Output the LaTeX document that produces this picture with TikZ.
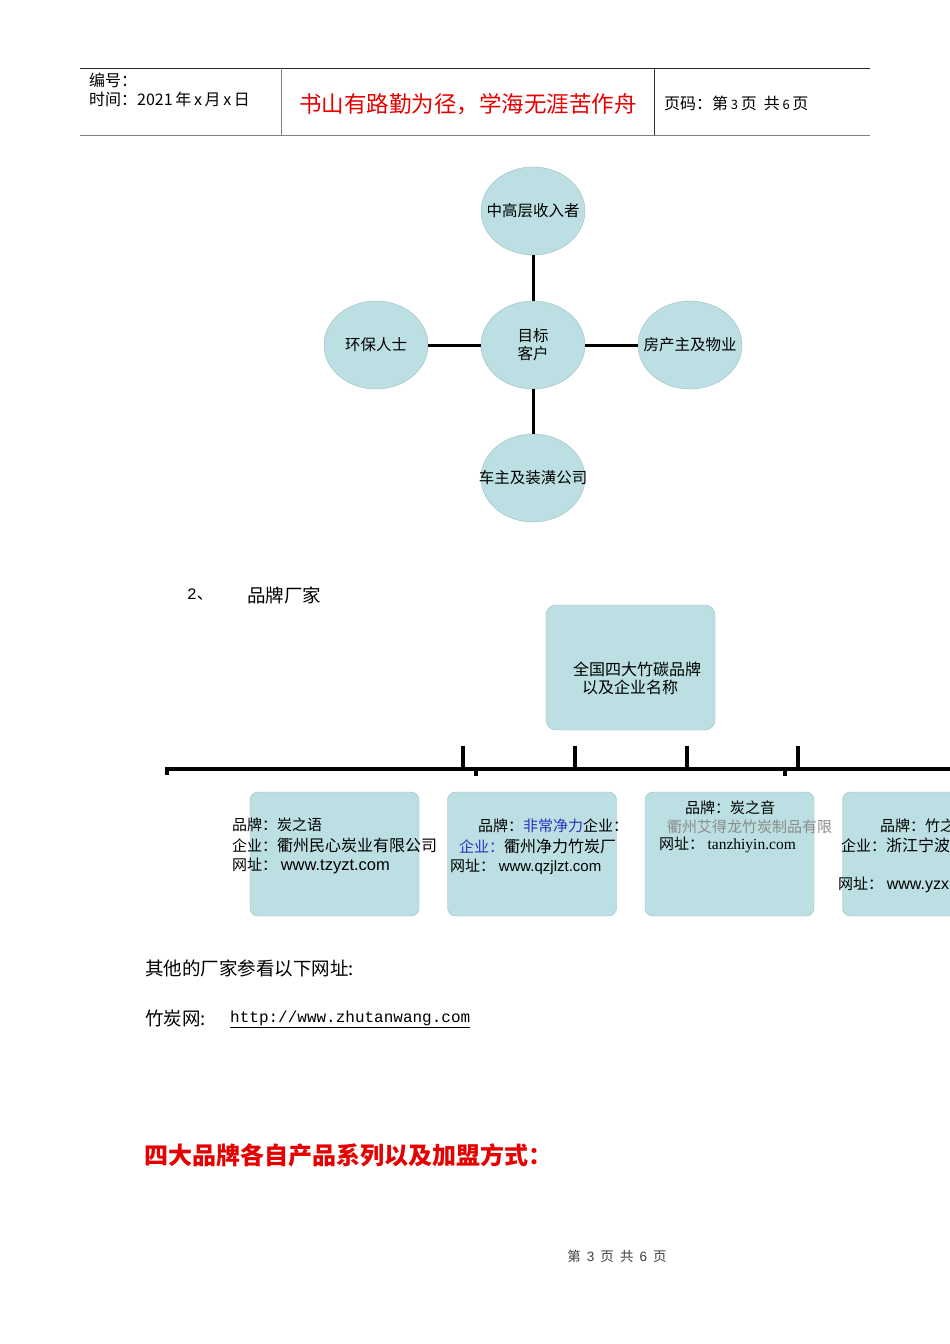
\documentclass[tikz,border=0pt]{standalone}
\usepackage{fontspec}
\setmainfont{Noto Sans CJK SC}
\newfontfamily\serifl{Liberation Serif}
\newfontfamily\monol{Liberation Mono}
\newfontfamily\sansl{Liberation Sans}
\usetikzlibrary{shapes.geometric}
\definecolor{bubble}{HTML}{BBDFE2}
\definecolor{bubbleline}{HTML}{9BBFC3}
\definecolor{hdrline}{HTML}{7F7F7F}
\definecolor{bluetxt}{HTML}{3030C0}
\definecolor{greytxt}{HTML}{8C8C8C}
\definecolor{redtxt}{HTML}{E60000}
\begin{document}
\begin{tikzpicture}[x=1pt,y=-1pt,
  bub/.style={ellipse,draw=bubbleline,fill=bubble,minimum width=104pt,minimum height=88pt,inner sep=0pt},
  bubtxt/.style={inner sep=0pt,font=\fontsize{15.5}{18}\selectfont,align=center},
  box/.style={rectangle,rounded corners=8pt,draw=bubbleline,fill=bubble,minimum width=169pt,minimum height=124pt,inner sep=0pt},
  txt/.style={anchor=west,inner sep=0pt},
  link/.style={line width=3pt,black},
  bar/.style={line width=3.5pt,black},
  fa/.style={font=\fontsize{15}{18}\selectfont},
  fb/.style={font=\fontsize{16}{19}\selectfont},
]
\useasboundingbox (0,0) rectangle (950,1344);
\clip (0,0) rectangle (950,1344);
\fill[white] (0,0) rectangle (950,1344);

% header
\draw[line width=0.8pt,black!85] (80,68) -- (870,68);
\draw[line width=1.6pt,hdrline] (80,135.5) -- (870,135.5);
\draw[line width=1pt,hdrline] (281,68) -- (281,135);
\draw[line width=1pt,black!80] (654,68) -- (654,135);
\node[txt,font=\fontsize{16}{19}\selectfont] (hno) at (89,80) {编号：};
\node[txt,font=\fontsize{16}{19}\selectfont] (htime) at (89,99) {时间：2021\,年\,x\,月\,x\,日};
\node[font=\fontsize{22.5}{25}\selectfont,text=redtxt,inner sep=0pt] (htitle) at (468,104) {书山有路勤为径，学海无涯苦作舟};
\node[txt,font=\fontsize{16}{19}\selectfont] (hpage) at (664,103) {页码：第\,{\fontsize{13}{15}\selectfont 3}\,页\ \ 共\,{\fontsize{13}{15}\selectfont 6}\,页};

% target customer diagram
\node[bub] (top) at (533,211) {};
\node[bub] (ctr) at (533,345) {};
\node[bub] (lft) at (376,345) {};
\node[bub] (rgt) at (690,345) {};
\node[bub] (bot) at (533,478) {};
\node[bubtxt] (topt) at (top.center) {中高层收入者};
\node[bubtxt] (ctrt) at (ctr.center) {目标\\客户};
\node[bubtxt] (lftt) at (lft.center) {环保人士};
\node[bubtxt] (rgtt) at (rgt.center) {房产主及物业};
\node[bubtxt] (bott) at (bot.center) {车主及装潢公司};
\draw[link] (ctr) -- (top);
\draw[link] (ctr) -- (lft);
\draw[link] (ctr) -- (rgt);
\draw[link] (ctr) -- (bot);

% section 2
\node[txt,font=\fontsize{16}{18}\selectfont] (s2num) at (187,595) {{\monol 2}、};
\node[txt,font=\fontsize{18.5}{21}\selectfont] (s2) at (247,595) {品牌厂家};

\node[box,minimum height=125pt,rounded corners=10pt] (root) at (630.5,667.5) {};
\node[txt,fb] (rootA) at (573,669) {全国四大竹碳品牌};
\node[txt,fb] (rootB) at (582,687) {以及企业名称};

% connector bar
\coordinate (barL) at (167,775);
\coordinate (barLc) at (167,769);
\coordinate (barR) at (960,769);
\draw[bar] (barL) -- (barLc) -- (barR);
\foreach \xx/\nm in {463/ta,575/tb,687/tc,798/td}{
  \coordinate (\nm1) at (\xx,746);
  \coordinate (\nm2) at (\xx,769);
  \draw[bar] (\nm1) -- (\nm2);
}
\foreach \xx/\nm in {476/da,785/db}{
  \coordinate (\nm1) at (\xx,769);
  \coordinate (\nm2) at (\xx,776);
  \draw[bar] (\nm1) -- (\nm2);
}

% brand boxes
\node[box] (b1) at (334.5,854) {};
\node[box] (b2) at (532,854) {};
\node[box] (b3) at (729.5,854) {};
\node[box] (b4) at (927,854) {};

\node[txt,fa] (b1a) at (232,825) {品牌：炭之语};
\node[txt,fb] (b1b) at (232,845) {{\fontsize{15}{18}\selectfont 企业：}衢州民心炭业有限公司};
\node[txt,fb] (b1c) at (232,866) {{\fontsize{15}{18}\selectfont 网址：} {\sansl\fontsize{16.5}{19}\selectfont www.tzyzt.com}};

\node[txt,fa] (b2a) at (478,826) {品牌：\textcolor{bluetxt}{非常净力}企业：};
\node[txt,fb] (b2b) at (459,846) {{\fontsize{15}{18}\selectfont\color{bluetxt}企业：}衢州净力竹炭厂};
\node[txt,fb] (b2c) at (450,867) {{\fontsize{15}{18}\selectfont 网址：} {\sansl\fontsize{15}{17}\selectfont www.qzjlzt.com}};

\node[fa,inner sep=0pt] (b3a) at (730,808) {品牌：炭之音};
\node[txt,fa,text=greytxt] (b3b) at (667,827) {衢州艾得龙竹炭制品有限};
\node[txt,fa] (b3c) at (659,845) {网址： {\serifl\fontsize{15.5}{18}\selectfont tanzhiyin.com}};

\node[txt,fa] (b4a) at (880,826) {品牌：竹之};
\node[txt,fb] (b4b) at (841,845) {{\fontsize{15}{18}\selectfont 企业：}浙江宁波};
\node[txt,fb] (b4c) at (838,885) {{\fontsize{15}{18}\selectfont 网址：} {\sansl www.yzx}};

% other manufacturers
\node[txt,font=\fontsize{18.5}{21}\selectfont] (oth) at (145,968) {其他的厂家参看以下网址:};
\node[txt,font=\fontsize{18.5}{21}\selectfont] (zt) at (145,1018) {竹炭网:};
\node[txt,font=\monol\fontsize{16}{18}\selectfont] (url) at (230,1018) {http://www.zhutanwang.com};
\draw[line width=0.8pt] ([yshift=-2pt]url.south west) -- ([yshift=-2pt]url.south east);

% red heading
\node[txt,font=\bfseries\fontsize{24}{27}\selectfont,text=redtxt] (red) at (144,1155) {四大品牌各自产品系列以及加盟方式：};

% footer
\node[font=\fontsize{13.5}{15}\selectfont,text=black!75,inner sep=0pt] (foot) at (617,1256) {第\ \ {\sansl 3}\ \ 页\ \ 共\ \ {\sansl 6}\ \ 页};
\end{tikzpicture}
\end{document}
